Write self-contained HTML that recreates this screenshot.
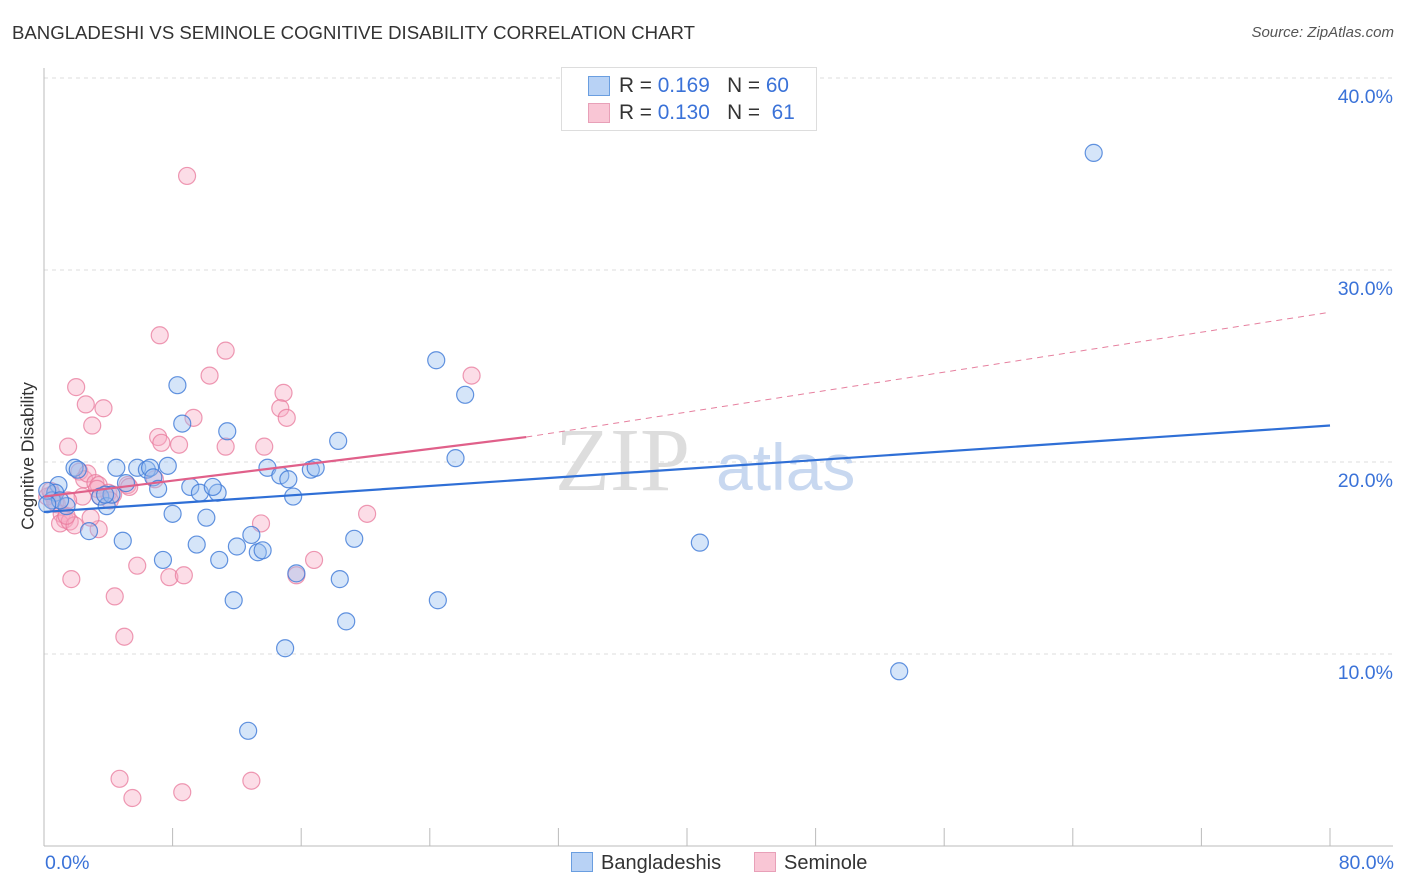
<!DOCTYPE html>
<html><head><meta charset="utf-8">
<style>
body{margin:0;background:#fff;font-family:"Liberation Sans",sans-serif;}
#wrap{position:relative;width:1406px;height:892px;overflow:hidden}
.t{position:absolute;white-space:nowrap}
</style></head>
<body>
<div id="wrap">
<div class="t" style="left:12px;top:22px;font-size:18.6px;color:#333">BANGLADESHI VS SEMINOLE COGNITIVE DISABILITY CORRELATION CHART</div>
<div class="t" style="right:12px;top:24px;font-size:15px;color:#555;font-style:italic">Source: ZipAtlas.com</div>
<svg id="svg" width="1406" height="892" style="position:absolute;left:0;top:0"></svg>
</div>
<script>
const blueX=[65.3,24.4,26.2,8.3,8.6,11.4,18.3,25.6,1.9,2.1,4.5,5.8,6.4,6.6,7.7,13.9,16.6,16.9,14.7,15.2,5.1,6.8,9.1,9.7,10.8,10.5,7.1,0.9,0.7,0.5,1.4,3.5,3.9,4.2,15.5,8.0,10.1,2.8,4.9,12.9,19.3,7.4,9.5,12.0,13.3,13.6,10.9,15.7,18.4,11.8,24.5,18.8,15.0,12.7,40.8,53.2,0.2,1.0,0.2,3.8];
const blueY=[36.1,25.3,23.5,24.0,22.0,21.6,21.1,20.2,19.7,19.6,19.7,19.7,19.6,19.7,19.8,19.7,19.6,19.7,19.3,19.1,18.9,19.2,18.7,18.4,18.4,18.7,18.6,18.8,18.4,18.0,17.7,18.2,17.7,18.3,18.2,17.3,17.1,16.4,15.9,16.2,16.0,14.9,15.7,15.6,15.3,15.4,14.9,14.2,13.9,12.8,12.8,11.7,10.3,6.0,15.8,9.1,18.5,18.0,17.8,18.3];
const pinkX=[8.9,7.2,11.3,10.3,26.6,2.0,2.6,3.7,14.9,14.7,15.1,9.3,3.0,7.1,7.3,8.4,11.3,13.7,1.5,2.2,2.5,2.7,3.2,3.4,4.0,5.2,6.9,2.4,3.3,4.3,5.3,0.5,0.8,1.1,1.3,1.0,1.6,1.9,3.4,1.7,4.4,5.0,5.8,7.8,8.7,13.5,15.7,16.8,20.1,4.7,5.5,8.6,12.9,0.2,0.4,0.7,3.5,4.1,2.9,1.4,1.5];
const pinkY=[34.9,26.6,25.8,24.5,24.5,23.9,23.0,22.8,23.6,22.8,22.3,22.3,21.9,21.3,21.0,20.9,20.8,20.8,20.8,19.5,19.1,19.4,18.9,18.8,18.4,18.8,19.1,18.2,18.6,18.3,18.7,18.3,17.8,17.3,17.0,16.8,16.9,16.7,16.5,13.9,13.0,10.9,14.6,14.0,14.1,16.8,14.1,14.9,17.3,3.5,2.5,2.8,3.4,18.2,18.5,17.9,18.2,18.0,17.1,17.2,18.0];
const blueLine=[0,17.4,80,21.9];
const pinkLine=[0,18.2,30,21.3,80,27.8];
const yTicks=[10,20,30,40];

const NS="http://www.w3.org/2000/svg",svg=document.getElementById('svg');
const X0=44,X1=1330,Y0=846;
const sx=v=>X0+(v/80)*(X1-X0), sy=v=>Y0-v*19.2;
function mk(tag,a,p){const e=document.createElementNS(NS,tag);for(const k in a)e.setAttribute(k,a[k]);(p||svg).appendChild(e);return e;}
yTicks.forEach(t=>{
 const g=mk('line',{x1:X0,x2:1393,y1:sy(t),y2:sy(t),stroke:'#ddd','stroke-dasharray':'4,4'});
 
 
 const l=mk('text',{x:1393,y:sy(t)+25,'text-anchor':'end','font-size':19.5,fill:'#3a72d8','font-family':'Liberation Sans'});
 l.textContent=t.toFixed(1)+'%';
 
 
});
mk('line',{x1:X0,x2:X0,y1:68,y2:Y0,stroke:'#bbb'});
mk('line',{x1:X0,x2:1393,y1:Y0,y2:Y0,stroke:'#bbb'});
for(let i=0;i<=10;i++){const x=sx(i*8);mk('line',{x1:x,x2:x,y1:828,y2:Y0,stroke:'#bbb'});}
const w=mk('text',{x:555,y:490,'font-size':90,fill:'#ddd','font-family':'Liberation Serif'});w.textContent='ZIP';


const w2=mk('text',{x:716,y:490,'font-size':66,fill:'#c8d8f0','font-family':'Liberation Sans'});w2.textContent='atlas';


function pts(xs,ys,fill,stroke,name){xs.forEach((x,i)=>{const c=mk('circle',{cx:sx(x),cy:sy(ys[i]),r:8.5,fill:fill,stroke:stroke,'stroke-width':1.2});
 
 });}
pts(pinkX,pinkY,'rgba(248,170,195,0.4)','rgba(232,120,155,0.75)','seminole-point');
pts(blueX,blueY,'rgba(150,190,240,0.4)','rgba(60,120,215,0.8)','bangladeshi-point');
const bl=mk('line',{x1:sx(blueLine[0]),y1:sy(blueLine[1]),x2:sx(blueLine[2]),y2:sy(blueLine[3]),stroke:'#2f6fd6','stroke-width':2.2});


const pl=mk('line',{x1:sx(pinkLine[0]),y1:sy(pinkLine[1]),x2:sx(pinkLine[2]),y2:sy(pinkLine[3]),stroke:'#e0608a','stroke-width':2.2});


const pd=mk('line',{x1:sx(pinkLine[2]),y1:sy(pinkLine[3]),x2:sx(pinkLine[4]),y2:sy(pinkLine[5]),stroke:'#e6809f','stroke-width':1,'stroke-dasharray':'6,5'});


</script>
<div class="t" style="left:28px;top:456px;font-size:17.5px;color:#333;transform:translate(-50%,-50%) rotate(-90deg)">Cognitive Disability</div>
<div class="t" style="left:45px;top:852px;font-size:19.5px;color:#3a72d8">0.0%</div>
<div class="t" style="right:12px;top:852px;font-size:19.5px;color:#3a72d8">80.0%</div>
<div style="position:absolute;left:561px;top:67px;width:254px;height:62px;border:1px solid #ddd;background:#fff;font-size:20.8px;color:#333">
 <div style="position:absolute;left:26px;top:8px;width:20px;height:18px;background:#b8d2f5;border:1px solid #6a9ee0"></div>
 <div class="t" style="left:57px;top:6px">R = <span style="color:#3a72d8">0.169</span>&nbsp;&nbsp;&nbsp;N = <span style="color:#3a72d8">60</span></div>
 <div style="position:absolute;left:26px;top:35px;width:20px;height:18px;background:#f9c6d5;border:1px solid #e8a0b8"></div>
 <div class="t" style="left:57px;top:33px">R = <span style="color:#3a72d8">0.130</span>&nbsp;&nbsp;&nbsp;N = &nbsp;<span style="color:#3a72d8">61</span></div>
</div>
<div style="position:absolute;left:571px;top:852px;font-size:20px;color:#333">
 <span style="display:inline-block;width:20px;height:18px;background:#b8d2f5;border:1px solid #6a9ee0;vertical-align:-3px;margin-right:8px"></span>Bangladeshis</div>
<div style="position:absolute;left:754px;top:852px;font-size:20px;color:#333">
 <span style="display:inline-block;width:20px;height:18px;background:#f9c6d5;border:1px solid #e8a0b8;vertical-align:-3px;margin-right:8px"></span>Seminole</div>
</body></html>
